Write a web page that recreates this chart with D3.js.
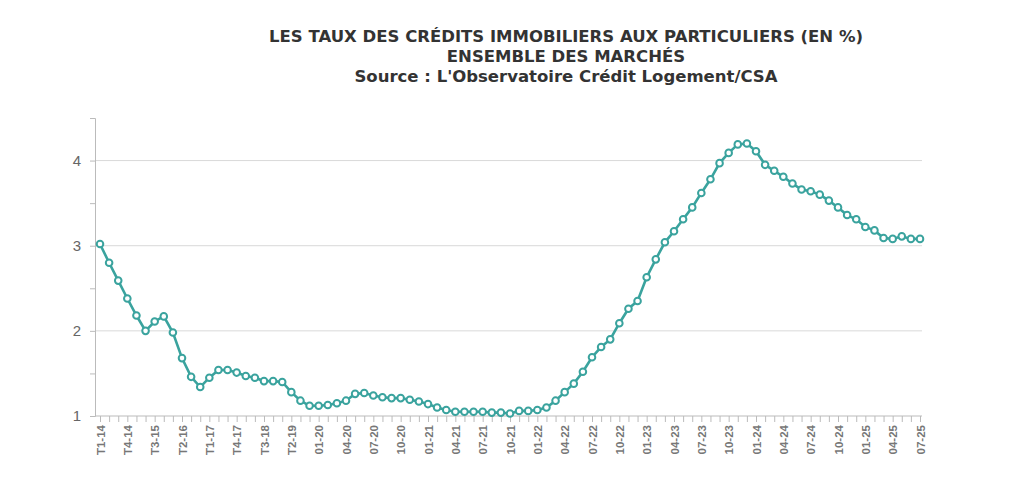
<!DOCTYPE html>
<html><head><meta charset="utf-8">
<script src="https://cdn.jsdelivr.net/npm/d3@7"></script>
<style>body{margin:0;background:#fff;font-family:"DejaVu Sans",Arial,sans-serif}</style>
</head><body><svg id="c" width="1024" height="490"></svg>
<script>
const quarters = ['T1-14','T2-14','T3-14','T4-14','T1-15','T2-15','T3-15','T4-15','T1-16','T2-16','T3-16','T4-16',
  'T1-17','T2-17','T3-17','T4-17','T1-18','T2-18','T3-18','T4-18','T1-19','T2-19','T3-19','T4-19'];
const months = [];
for (let y = 20; y <= 25; y++) for (let m = 1; m <= 12; m++) { if (y === 25 && m > 7) break; months.push(String(m).padStart(2,'0') + '-' + y); }
const categories = quarters.concat(months);
const rates = [3.02,2.80,2.59,2.38,2.18,2.00,2.11,2.17,1.98,1.68,1.46,1.34,1.45,1.54,1.54,1.51,1.47,1.45,1.41,1.41,1.40,1.28,1.18,1.12,
  1.12,1.13,1.15,1.18,1.26,1.27,1.24,1.22,1.21,1.21,1.19,1.17,1.14,1.10,1.07,1.05,1.05,1.05,1.05,1.04,1.04,1.03,1.06,1.06,
  1.07,1.10,1.18,1.28,1.38,1.52,1.69,1.81,1.90,2.09,2.26,2.35,2.63,2.84,3.04,3.17,3.31,3.45,3.62,3.78,3.97,4.09,4.19,4.20,
  4.11,3.95,3.88,3.81,3.73,3.66,3.64,3.60,3.53,3.45,3.36,3.31,3.22,3.18,3.09,3.08,3.11,3.08,3.08];
const yTicks = [1,2,3,4];
const titleLines = ['LES TAUX DES CRÉDITS IMMOBILIERS AUX PARTICULIERS (EN %)','ENSEMBLE DES MARCHÉS',"Source : L'Observatoire Crédit Logement/CSA"];

const svg = d3.select('#c');
const m = {left: 95, right: 922, top: 118, bottom: 416};
const x = d3.scalePoint().domain(categories).range([m.left + 5, m.right - 2]);
const y = d3.scaleLinear().domain([1, 4.5]).range([m.bottom, m.top]);

svg.append('g').selectAll('line').data(yTicks.slice(1)).join('line')
  .attr('x1', m.left).attr('x2', m.right).attr('y1', y).attr('y2', y)
  .attr('stroke', '#d9d9d9').attr('stroke-width', 1);

// y axis
const ya = svg.append('g').attr('transform', `translate(${m.left},0)`)
  .call(d3.axisLeft(y).tickValues(d3.range(1, 4.51, 0.5)).tickSize(5).tickFormat(d => Number.isInteger(d) ? d : ''));
ya.select('.domain').attr('stroke', '#bbb');
ya.selectAll('.tick line').attr('stroke', '#bbb');
ya.selectAll('text').attr('fill', '#666').style('font-size', '15px').attr('dx', '-6');

// x axis
const xa = svg.append('g').attr('transform', `translate(0,${m.bottom})`)
  .call(d3.axisBottom(x).tickSize(6).tickFormat((d, i) => i % 3 === 0 ? d : ''));
xa.select('.domain').attr('stroke', '#bbb').attr('d', `M${m.left},0H${m.right}`);
xa.selectAll('.tick line').attr('stroke', '#bbb');
xa.selectAll('text').attr('fill', '#777').style('font-size', '11.5px').style('font-weight', 'bold')
  .style('font-family', '"Liberation Sans",Arial,sans-serif')
  .attr('transform', 'rotate(-90)').attr('text-anchor', 'end').attr('x', -9).attr('y', 0).attr('dy', '0.35em');

const pts = categories.map((c, i) => [x(c), y(rates[i])]);
svg.append('path').attr('d', d3.line()(pts)).attr('fill', 'none')
  .attr('stroke', '#3aa39e').attr('stroke-width', 2.6);
svg.append('g').selectAll('circle').data(pts).join('circle')
  .attr('cx', d => d[0]).attr('cy', d => d[1]).attr('r', 3.3)
  .attr('fill', '#fff').attr('stroke', '#3aa39e').attr('stroke-width', 2);

svg.append('g').selectAll('text').data(titleLines).join('text')
  .attr('x', 566).attr('y', (d, i) => 42 + i * 20).attr('text-anchor', 'middle')
  .attr('fill', '#333').style('font-size', '16.5px').style('font-weight', 'bold').text(d => d);
</script></body></html>
